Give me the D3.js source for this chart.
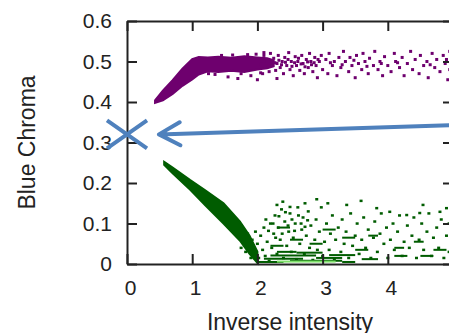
<!DOCTYPE html>
<html>
<head>
<meta charset="utf-8">
<script src="https://cdn.jsdelivr.net/npm/d3@7"></script>
<style>
  body { margin: 0; background: #fff; }
  svg { display: block; }
  text { font-family: "Liberation Sans", Arial, sans-serif; fill: #222; }
</style>
</head>
<body>
<div id="chart"></div>
<script>
// axis setup
const xTicks = [0, 1, 2, 3, 4];
const yTicks = [0, 0.1, 0.2, 0.3, 0.4, 0.5, 0.6];
const xLabel = "Inverse intensity";
const yLabel = "Blue Chroma";

// dense part of the purple cloud: x, lower edge, upper edge
const purpleBandX  = [0.43, 0.55, 0.70, 0.85, 1.00, 1.10, 1.24, 1.40, 1.60, 1.80, 2.00, 2.15, 2.25];
const purpleBandLo = [0.398, 0.404, 0.420, 0.440, 0.456, 0.468, 0.476, 0.474, 0.477, 0.474, 0.480, 0.483, 0.488];
const purpleBandHi = [0.404, 0.428, 0.454, 0.482, 0.506, 0.511, 0.510, 0.512, 0.509, 0.513, 0.510, 0.508, 0.503];

// sparse purple points
const purplePoints = [
  [1.25, 0.470], [1.35, 0.468], [1.55, 0.462], [1.70, 0.458], [1.90, 0.465], [2.00, 0.455], [2.30, 0.458],
  [1.45, 0.515], [1.62, 0.516], [1.85, 0.517], [1.98, 0.518], [2.10, 0.522], [1.75, 0.470], [2.05, 0.472],
  [2.05, 0.495], [2.08, 0.470], [2.10, 0.515], [2.12, 0.485], [2.15, 0.500], [2.18, 0.475], [2.20, 0.520],
  [2.22, 0.490], [2.25, 0.508], [2.28, 0.478], [2.30, 0.495], [2.32, 0.515], [2.35, 0.485], [2.38, 0.500],
  [2.40, 0.470], [2.42, 0.510], [2.45, 0.490], [2.48, 0.522], [2.50, 0.480], [2.52, 0.500], [2.55, 0.465],
  [2.58, 0.512], [2.60, 0.490], [2.62, 0.500], [2.65, 0.478], [2.68, 0.515], [2.70, 0.495], [2.72, 0.470],
  [2.75, 0.505], [2.78, 0.485], [2.80, 0.520], [2.82, 0.500], [2.85, 0.475], [2.88, 0.510], [2.90, 0.490],
  [2.92, 0.460], [2.95, 0.500], [2.98, 0.515], [3.00, 0.480],
  [2.27, 0.497], [2.33, 0.503], [2.37, 0.492], [2.43, 0.498], [2.47, 0.505], [2.53, 0.488], [2.57, 0.497],
  [2.63, 0.508], [2.67, 0.494], [2.73, 0.487], [2.77, 0.499], [2.83, 0.492], [2.87, 0.497], [2.93, 0.505],
  [3.05, 0.505], [3.08, 0.470], [3.10, 0.520], [3.15, 0.490], [3.18, 0.500], [3.22, 0.465], [3.25, 0.510],
  [3.28, 0.485], [3.32, 0.525], [3.35, 0.500], [3.40, 0.475], [3.42, 0.510], [3.45, 0.490], [3.50, 0.460],
  [3.52, 0.515], [3.55, 0.495], [3.60, 0.480], [3.62, 0.520], [3.65, 0.500], [3.70, 0.470], [3.72, 0.508],
  [3.78, 0.490], [3.80, 0.525], [3.85, 0.480], [3.88, 0.500], [3.92, 0.465], [3.95, 0.512],
  [3.12, 0.497], [3.30, 0.492], [3.48, 0.503], [3.68, 0.488], [3.90, 0.495],
  [4.00, 0.490], [4.05, 0.475], [4.10, 0.520], [4.12, 0.500], [4.18, 0.485], [4.22, 0.510], [4.25, 0.465],
  [4.30, 0.495], [4.35, 0.525], [4.38, 0.480], [4.42, 0.505], [4.48, 0.470], [4.50, 0.515], [4.55, 0.490],
  [4.60, 0.500], [4.62, 0.460], [4.68, 0.520], [4.72, 0.485], [4.75, 0.505], [4.80, 0.475], [4.85, 0.515],
  [4.88, 0.495], [4.92, 0.455], [4.95, 0.525], [4.95, 0.480], [4.15, 0.497], [4.65, 0.492], [4.90, 0.505]
];

// dense part of the green cloud
const greenBandX  = [0.57, 0.70, 0.97, 1.20, 1.48, 1.73, 1.88, 2.00];
const greenBandLo = [0.245, 0.224, 0.183, 0.145, 0.100, 0.058, 0.025, 0.003];
const greenBandHi = [0.252, 0.238, 0.207, 0.182, 0.150, 0.105, 0.070, 0.030];

// sparse green points
const greenPoints = [
  [1.75, 0.040], [1.80, 0.060], [1.82, 0.030], [1.85, 0.075], [1.88, 0.045], [1.90, 0.015], [1.92, 0.060],
  [1.95, 0.030], [1.97, 0.080], [2.00, 0.050], [2.02, 0.015], [2.05, 0.070], [2.08, 0.035], [2.10, 0.090],
  [2.12, 0.020], [2.15, 0.055], [2.18, 0.008], [2.20, 0.100], [2.22, 0.040], [2.25, 0.075], [2.27, 0.120],
  [2.30, 0.025], [2.32, 0.090], [2.35, 0.060], [2.37, 0.135], [2.40, 0.015], [2.42, 0.105], [2.45, 0.045],
  [2.48, 0.080], [2.50, 0.125], [2.52, 0.030], [2.55, 0.065], [2.58, 0.100], [2.60, 0.012], [2.62, 0.140],
  [2.65, 0.050], [2.68, 0.085], [2.70, 0.115], [2.72, 0.025], [2.75, 0.070], [2.78, 0.130], [2.80, 0.040],
  [2.82, 0.095], [2.85, 0.010], [2.88, 0.060], [2.90, 0.110], [2.92, 0.035], [2.95, 0.080], [2.98, 0.140],
  [2.13, 0.110], [2.17, 0.082], [2.24, 0.100], [2.28, 0.065], [2.33, 0.118], [2.38, 0.075], [2.43, 0.128],
  [2.47, 0.095], [2.53, 0.110], [2.57, 0.082], [2.63, 0.120], [2.67, 0.100], [2.73, 0.092], [2.77, 0.108],
  [3.00, 0.020], [3.03, 0.055], [3.06, 0.100], [3.10, 0.035], [3.12, 0.075], [3.15, 0.120], [3.18, 0.012],
  [3.20, 0.060], [3.24, 0.090], [3.28, 0.030], [3.30, 0.110], [3.33, 0.050], [3.36, 0.080], [3.40, 0.015],
  [3.43, 0.125], [3.46, 0.045], [3.50, 0.070], [3.53, 0.100], [3.56, 0.025], [3.60, 0.060], [3.63, 0.115],
  [3.66, 0.040], [3.70, 0.085], [3.74, 0.015], [3.78, 0.065], [3.80, 0.105], [3.84, 0.030], [3.88, 0.075],
  [3.90, 0.125], [3.94, 0.050], [3.98, 0.090],
  [4.00, 0.015], [4.04, 0.060], [4.08, 0.100], [4.10, 0.035], [4.15, 0.080], [4.18, 0.120], [4.22, 0.020],
  [4.25, 0.055], [4.30, 0.095], [4.33, 0.040], [4.37, 0.070], [4.40, 0.115], [4.44, 0.015], [4.48, 0.060],
  [4.52, 0.100], [4.55, 0.035], [4.60, 0.080], [4.63, 0.125], [4.67, 0.020], [4.70, 0.065], [4.75, 0.090],
  [4.78, 0.040], [4.82, 0.110], [4.86, 0.015], [4.90, 0.070], [4.94, 0.100], [4.94, 0.030],
  [2.91, 0.160], [3.59, 0.156], [4.90, 0.138], [4.54, 0.146], [2.39, 0.154], [2.30, 0.146], [2.50, 0.141],
  [2.73, 0.150], [3.08, 0.150], [3.37, 0.146], [3.83, 0.138], [4.03, 0.129], [4.29, 0.121], [4.49, 0.126],
  [4.80, 0.129]
];

// horizontal runs of green points: x from, x to, y
const greenRuns = [
  [2.00, 2.40, 0.005], [2.10, 2.70, 0.013], [2.20, 2.90, 0.021], [2.30, 2.60, 0.030], [2.50, 3.30, 0.008],
  [2.60, 3.00, 0.028], [2.90, 3.30, 0.015], [3.10, 3.50, 0.022], [3.30, 3.50, 0.005], [3.60, 3.85, 0.012],
  [3.50, 3.70, 0.035], [4.10, 4.30, 0.020], [4.50, 4.70, 0.020], [4.10, 4.25, 0.040], [2.20, 2.40, 0.045],
  [2.50, 2.70, 0.060], [2.80, 3.00, 0.050], [3.30, 3.50, 0.065], [3.00, 3.20, 0.085], [2.30, 2.50, 0.090],
  [3.70, 3.85, 0.070], [4.40, 4.55, 0.055], [4.70, 4.90, 0.035]
];
const lightGreenRuns = [[2.30, 3.20, 0.006]];

// annotation: marked point and arrow
const markPoint = [0, 0.32];
const arrowFrom = [5.0, 0.343];
const arrowTo = [0.49, 0.32];

const width = 449, height = 333;
const margin = { left: 127, right: -4, top: 21, bottom: 69 };
const purple = "#6e006e", green = "#005c00", blue = "#4f81bd";

const svg = d3.select("#chart").append("svg")
  .attr("width", width).attr("height", height);

const x = d3.scaleLinear().domain([0, 5]).range([margin.left, width - margin.right]);
const y = d3.scaleLinear().domain([0, 0.6]).range([height - margin.bottom, margin.top]);

// clouds
const area = d3.area().x(d => x(d[0])).y0(d => y(d[1])).y1(d => y(d[2]));

svg.append("path")
  .attr("d", area(purpleBandX.map((v, i) => [v, purpleBandLo[i], purpleBandHi[i]])))
  .attr("fill", purple).attr("stroke", purple).attr("stroke-width", 2);

svg.append("path")
  .attr("d", area(greenBandX.map((v, i) => [v, greenBandLo[i], greenBandHi[i]])))
  .attr("fill", green).attr("stroke", green).attr("stroke-width", 2);

svg.append("g").selectAll("rect").data(purplePoints).join("rect")
  .attr("x", d => x(d[0]) - 1.5).attr("y", d => y(d[1]) - 1.5)
  .attr("width", 3).attr("height", 3).attr("fill", purple);

svg.append("g").selectAll("rect").data(greenPoints).join("rect")
  .attr("x", d => x(d[0]) - 1.5).attr("y", d => y(d[1]) - 1.2)
  .attr("width", 3).attr("height", 2.5).attr("fill", green);

svg.append("g").selectAll("rect").data(greenRuns).join("rect")
  .attr("x", d => x(d[0])).attr("y", d => y(d[2]) - 1)
  .attr("width", d => x(d[1]) - x(d[0])).attr("height", 2).attr("fill", green);

svg.append("g").selectAll("rect").data(lightGreenRuns).join("rect")
  .attr("x", d => x(d[0])).attr("y", d => y(d[2]) - 1)
  .attr("width", d => x(d[1]) - x(d[0])).attr("height", 2).attr("fill", "#7ee06a");

// frame with inward ticks on all sides
const axisStyle = g => {
  g.selectAll(".domain").attr("stroke", "#222").attr("stroke-width", 2);
  g.selectAll(".tick line").attr("stroke", "#222").attr("stroke-width", 2);
  g.selectAll("text").style("font-size", "21px").attr("fill", "#222");
};

svg.append("g")
  .attr("transform", `translate(${margin.left},0)`)
  .call(d3.axisLeft(y).tickValues(yTicks).tickSizeInner(-10).tickSizeOuter(0).tickPadding(15)
    .tickFormat(d => d === 0 ? "0" : d.toFixed(1)))
  .call(axisStyle);

svg.append("g")
  .attr("transform", `translate(${width - margin.right},0)`)
  .call(d3.axisRight(y).tickValues(yTicks).tickSizeInner(-10).tickSizeOuter(0).tickFormat(""))
  .call(axisStyle);

svg.append("g")
  .attr("transform", `translate(0,${margin.top})`)
  .call(d3.axisTop(x).tickValues(xTicks).tickSizeInner(-10).tickSizeOuter(0).tickFormat(""))
  .call(axisStyle);

svg.append("g")
  .attr("transform", `translate(0,${height - margin.bottom})`)
  .call(d3.axisBottom(x).tickValues(xTicks).tickSizeInner(-10).tickSizeOuter(0).tickPadding(16)
    .tickFormat(d3.format("d")))
  .call(axisStyle)
  .call(g => g.selectAll("text").attr("dx", 3));

// axis titles
svg.append("text")
  .attr("x", (margin.left + width - margin.right) / 2).attr("y", 330)
  .attr("text-anchor", "middle").style("font-size", "23px").text(xLabel);

svg.append("text")
  .attr("transform", `translate(35,${(margin.top + height - margin.bottom) / 2}) rotate(-90)`)
  .attr("text-anchor", "middle").style("font-size", "23px").text(yLabel);

// blue cross and arrow
const mx = x(markPoint[0]), my = y(markPoint[1]);
svg.append("path")
  .attr("d", `M${mx - 20},${my - 14}L${mx + 20},${my + 14}M${mx - 20},${my + 14}L${mx + 20},${my - 14}`)
  .attr("stroke", blue).attr("stroke-width", 4).attr("fill", "none");

const ax0 = x(arrowFrom[0]), ay0 = y(arrowFrom[1]);
const ax1 = x(arrowTo[0]), ay1 = y(arrowTo[1]);
const ang = Math.atan2(ay0 - ay1, ax0 - ax1);
const head = 24, spread = 0.5;
svg.append("path")
  .attr("d", `M${ax0},${ay0}L${ax1},${ay1}` +
    `M${ax1 + head * Math.cos(ang - spread)},${ay1 + head * Math.sin(ang - spread)}L${ax1},${ay1}` +
    `L${ax1 + head * Math.cos(ang + spread)},${ay1 + head * Math.sin(ang + spread)}`)
  .attr("stroke", blue).attr("stroke-width", 4).attr("fill", "none")
  .attr("stroke-linejoin", "round").attr("stroke-linecap", "round");
</script>
</body>
</html>
